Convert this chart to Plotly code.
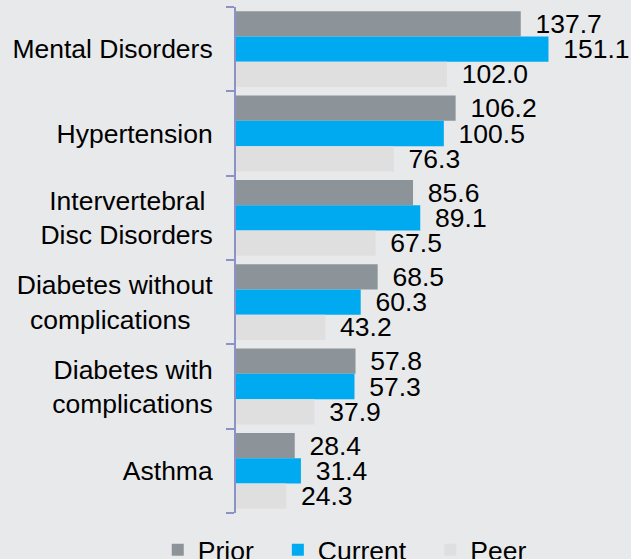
import plotly.graph_objects as go

categories = ["Mental Disorders", "Hypertension", "Intervertebral Disc Disorders",
              "Diabetes without complications", "Diabetes with complications", "Asthma"]
tick_labels = ["Mental Disorders", "Hypertension", "Intervertebral\u00a0<br>Disc Disorders",
               "Diabetes without<br>complications\u00a0\u00a0\u00a0", "Diabetes with<br>complications", "Asthma"]
prior = [137.7, 106.2, 85.6, 68.5, 57.8, 28.4]
current = [151.1, 100.5, 89.1, 60.3, 57.3, 31.4]
peer = [102.0, 76.3, 67.5, 43.2, 37.9, 24.3]

PAD = "\u00a0\u00a0\u2006"
series = [("Prior", prior, "#8C9399"), ("Current", current, "#00AAF0"), ("Peer", peer, "#DFDFDF")]

FONT = "Liberation Sans, Arial, sans-serif"
FS = 26.5
fig = go.Figure()
for name, vals, color in series:
    fig.add_trace(go.Bar(
        name=name + PAD, y=categories, x=vals, orientation="h",
        marker=dict(color=color, line=dict(width=0)),
        text=[f"{v:.1f}" for v in vals],
        texttemplate="\u00a0\u2006%{text}",
        textposition="outside", cliponaxis=False, constraintext="none",
        textfont=dict(family=FONT, size=FS, color="#000000"),
    ))

fig.update_layout(
    width=631, height=559,
    margin=dict(l=236, r=0, t=7, b=46),
    paper_bgcolor="#E8E9EB", plot_bgcolor="#E8E9EB",
    barmode="group", bargap=0.1, bargroupgap=0,
    font=dict(family=FONT, size=FS, color="#000000"),
    showlegend=True,
    legend=dict(orientation="h", traceorder="normal",
                xref="container", yref="container",
                x=0.250, xanchor="left", y=0.016, yanchor="middle",
                font=dict(family=FONT, size=FS, color="#000000"),
                bgcolor="rgba(0,0,0,0)"),
    xaxis=dict(range=[0, 191], visible=False, fixedrange=True),
    yaxis=dict(autorange="reversed", tickmode="array", tickvals=categories, ticktext=tick_labels,
               showline=True, linecolor="#8C92C6", linewidth=2,
               ticks="outside", tickson="boundaries", ticklen=8, tickwidth=2, tickcolor="#8C92C6",
               ticklabelstandoff=16, showgrid=False, zeroline=False, fixedrange=True),
)

fig.write_html("out.html", config={"displayModeBar": False},
               post_script="document.body.style.margin='0';document.body.style.background='#E8E9EB';")
